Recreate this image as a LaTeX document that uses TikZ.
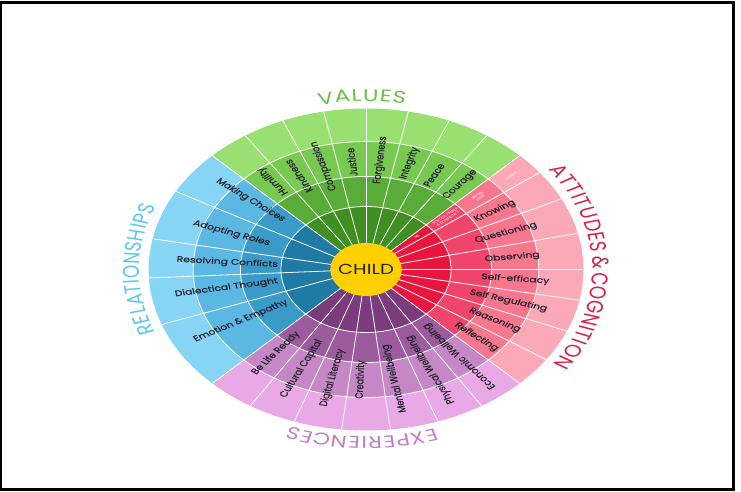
\documentclass[tikz,border=0pt]{standalone}
\usepackage{fontspec}
\setmainfont{Poppins}
\newfontfamily\labfont{Poppins}[FakeBold=0.5]
\definecolor{gA}{HTML}{3F8F22}
\definecolor{gB}{HTML}{58AC37}
\definecolor{gC}{HTML}{78C952}
\definecolor{gD}{HTML}{98E072}
\definecolor{bA}{HTML}{1F7BA4}
\definecolor{bB}{HTML}{3A9BC9}
\definecolor{bC}{HTML}{5BB8E2}
\definecolor{bD}{HTML}{86D5F5}
\definecolor{rA}{HTML}{E8163F}
\definecolor{rB}{HTML}{F2456A}
\definecolor{rC}{HTML}{F7778F}
\definecolor{rD}{HTML}{FBA8B7}
\definecolor{pA}{HTML}{7B3C7D}
\definecolor{pB}{HTML}{9C5B9D}
\definecolor{pC}{HTML}{C587C5}
\definecolor{pD}{HTML}{E9A9E7}
\definecolor{childY}{HTML}{FFD000}
\definecolor{labelC}{HTML}{26222E}
\definecolor{tGreen}{HTML}{6CBF48}
\definecolor{tRed}{HTML}{D6204B}
\definecolor{tBlue}{HTML}{5CC6EE}
\definecolor{tPurple}{HTML}{C27FC3}

\newcommand\ttlfont{\fontsize{17}{19}\selectfont}
% letters given as Letter/advance (per mille of 17pt)
\newcommand\arctitle[4]{%
  \xdef\arcTot{0}%
  \foreach \arcCh/\arcW in {#4}{\pgfmathsetmacro\arcTmp{\arcTot+\arcW*0.017}\xdef\arcTot{\arcTmp}}%
  \pgfmathsetmacro\arcAng{#1+(\arcTot/2)/#2*180/pi}\xdef\arcAng{\arcAng}%
  \foreach \arcCh/\arcW in {#4}{%
    \pgfmathsetmacro\arcStep{(\arcW*0.017)/#2*180/pi}%
    \pgfmathsetmacro\arcMid{\arcAng-\arcStep/2}%
    \node[text=#3,font=\ttlfont,rotate=\arcMid-90,anchor=base,inner sep=0pt] at (\arcMid:#2) {\arcCh};%
    \pgfmathsetmacro\arcTmp{\arcAng-\arcStep}\xdef\arcAng{\arcTmp}%
  }%
}
\newcommand\ringsec[5]{%
  \fill[#5] (#1:#3) arc[start angle=#1,end angle=#2,radius=#3] -- (#2:#4) arc[start angle=#2,end angle=#1,radius=#4] -- cycle;}
\newcommand\sectorfill[6]{% a b c1 c2 c3 c4
  \ringsec{#1}{#2}{26}{63}{#3}\ringsec{#1}{#2}{63}{93}{#4}\ringsec{#1}{#2}{93}{128}{#5}\ringsec{#1}{#2}{128}{161}{#6}}

\tikzset{
  lab/.style={font=\labfont\fontsize{8}{9}\selectfont, text=labelC, inner sep=0pt},
  tinylab/.style={font=\fontsize{3}{3.4}\selectfont, text=white, align=center, inner sep=0pt},
  spoke/.style={white, line width=0.8pt},
}

\begin{document}
\begin{tikzpicture}[x=1pt,y=1pt]
\useasboundingbox (0,0) rectangle (741,491);
\fill[white] (0,0) rectangle (741,491);
\draw[line width=2.7pt] (1,1.5) rectangle (733.7,488.8);
\begin{scope}[shift={(366,221.5)},xscale=1.35,transform shape]
  % sector fills
  \sectorfill{45}{135}{gA}{gB}{gC}{gD}
  \sectorfill{135}{225}{bA}{bB}{bC}{bD}
  \sectorfill{225}{315}{pA}{pB}{pC}{pD}
  \sectorfill{-45}{45}{rA}{rB}{rC}{rD}
  % spokes
  \foreach \a in {45,56.25,...,135} \draw[spoke] (\a:26) -- (\a:161);
  \foreach \a in {151,169,183,200,225} \draw[spoke] (\a:26) -- (\a:161);
  \foreach \a in {237.857,250.714,263.571,276.429,289.286,302.143,315} \draw[spoke] (\a:26) -- (\a:161);
  \foreach \a in {37,26,13,0,-11,-22.5,-34} \draw[spoke] (\a:26) -- (\a:161);
  % ring boundaries
  \foreach \r in {63,93,128} \draw[spoke] (0,0) circle[radius=\r];
  % centre
  \node[circle, fill=childY, minimum size=53pt, inner sep=0pt, font=\fontsize{14.5}{16}\selectfont, text=labelC] (child) at (0,0) {CHILD};
  % values labels
  \node[lab, rotate=128]   (humility) at (128:112) {Humility};
  \node[lab, rotate=118.1] (kindness) at (118.1:106) {Kindness};
  \node[lab, rotate=106.9] (compassion) at (106.9:108) {Compassion};
  \node[lab, rotate=95.6]  (justice) at (95.6:108) {Justice};
  \node[lab, rotate=84.4]  (forgiveness) at (84.4:110) {Forgiveness};
  \node[lab, rotate=73.1]  (integrity) at (73.1:111) {Integrity};
  \node[lab, rotate=61.9]  (peace) at (61.9:107) {Peace};
  \node[lab, rotate=50.6]  (courage) at (50.6:110) {Courage};
  % attitudes labels
  \node[lab, rotate=31.5]  (knowing) at (31.5:112) {Knowing};
  \node[lab, rotate=19.5]  (questioning) at (19.5:110) {Questioning};
  \node[lab, rotate=6.5]   (observing) at (6.5:109) {Observing};
  \node[lab, rotate=-5]    (selfeff) at (-5:111) {Self-efficacy};
  \node[lab, rotate=-16.5] (selfreg) at (-16.5:110) {Self Regulating};
  \node[lab, rotate=-28]   (reasoning) at (-28:108) {Reasoning};
  \node[lab, rotate=-39.5] (reflecting) at (-39.5:106) {Reflecting};
  % tiny ring labels
  \node[tinylab, rotate=41] (me) at (41:50) {ME};
  \node[tinylab, rotate=41] (school) at (41:79) {SCHOOL, FAMILY\\\& COMMUNITY};
  \node[tinylab, rotate=41] (british) at (41:111) {BRITISH\\ISLES};
  \node[tinylab, rotate=41] (global) at (41:143) {GLOBAL};
  % relationships labels
  \node[lab, rotate=141-180] (making) at (141:110) {Making Choices};
  \node[lab, rotate=160-180] (adopting) at (160:106) {Adopting Roles};
  \node[lab, rotate=176-180] (resolving) at (176:103) {Resolving Conflicts};
  \node[lab, rotate=190-180] (dialectical) at (190:105) {Dialectical Thought};
  \node[lab, rotate=209-180] (emotion) at (209:106) {Emotion \& Empathy};
  % experiences labels
  \node[lab, rotate=231.4-180] (lifeready) at (231.4:107) {Be Life Ready};
  \node[lab, rotate=244.3-180] (cultural) at (244.3:110) {Cultural Capital};
  \node[lab, rotate=257.1-180] (digital) at (257.1:111) {Digital Literacy};
  \node[lab, rotate=268-180]   (creativity) at (268:110) {Creativity};
  \node[lab, rotate=281-180]   (mental) at (281:111) {Mental Wellbeing};
  \node[lab, rotate=295.5-180] (physical) at (295.5:111) {Physical Wellbeing};
  \node[lab, rotate=308.6-180] (economic) at (308.6:111) {Economic Wellbeing};
  % titles
  \arctitle{91}{168}{tGreen}{V/698,A/716,L/498,U/703,E/564,S/594}
  \arctitle{1}{168}{tRed}{A/716,T/566,T/566,I/279,T/566,U/703,D/752,E/564,S/594,\space/249,\&/726,\space/249,C/727,O/815,G/772,N/746,I/279,T/566,I/279,O/815,N/746}
  \arctitle{180}{168}{tBlue}{R/634,E/564,L/498,A/716,T/566,I/279,O/815,N/746,S/594,H/744,I/279,P/606,S/594}
  \arctitle{269}{167}{tPurple}{E/564,X/639,P/606,E/564,R/634,I/279,E/564,N/746,C/727,E/564,S/594}
\end{scope}
\end{tikzpicture}
\end{document}
